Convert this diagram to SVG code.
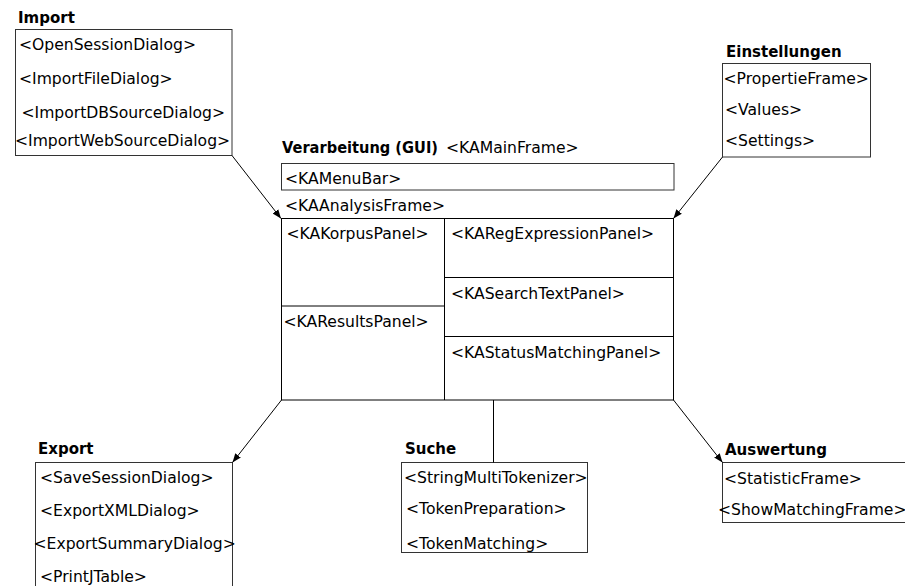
<svg xmlns="http://www.w3.org/2000/svg" width="905" height="586" viewBox="0 0 905 586">
<style>
  text { font-family: "DejaVu Sans", "Liberation Sans", sans-serif; fill: #000; }
  .t { font-size: 15.6px; }
  .h { font-size: 15px; font-weight: bold; }
  .box { fill: #fff; stroke: #333; stroke-width: 1; }
  .frame { fill: none; stroke: #000; stroke-width: 1; }
  .conn line { stroke: #000; stroke-width: 1; }
</style>
<defs>
  <marker id="arr" markerWidth="10" markerHeight="8" refX="9" refY="4" orient="auto" markerUnits="userSpaceOnUse">
    <path d="M0,0.5 L9,4 L0,7.5 z" fill="#000"/>
  </marker>
</defs>
<rect width="905" height="586" fill="#fff"/>

<g id="import">
  <text class="h" x="18" y="22.5">Import</text>
  <rect class="box" x="15.5" y="29.5" width="216.5" height="126"/>
  <text class="t" x="19" y="50">&lt;OpenSessionDialog&gt;</text>
  <text class="t" x="19" y="84">&lt;ImportFileDialog&gt;</text>
  <text class="t" x="21.5" y="117.5">&lt;ImportDBSourceDialog&gt;</text>
  <text class="t" x="15" y="146">&lt;ImportWebSourceDialog&gt;</text>
</g>

<g id="einstellungen">
  <text class="h" x="726" y="57">Einstellungen</text>
  <rect class="box" x="722.5" y="63.5" width="148" height="93.5"/>
  <text class="t" x="723.5" y="83.5">&lt;PropertieFrame&gt;</text>
  <text class="t" x="725" y="115">&lt;Values&gt;</text>
  <text class="t" x="725" y="146">&lt;Settings&gt;</text>
</g>

<g id="verarbeitung">
  <text x="282" y="153"><tspan class="h" textLength="156" lengthAdjust="spacingAndGlyphs">Verarbeitung (GUI)</tspan></text>
  <text class="t" x="446" y="153">&lt;KAMainFrame&gt;</text>
  <rect class="box" x="281.5" y="163.5" width="392.5" height="26.5"/>
  <text class="t" x="285" y="183.5">&lt;KAMenuBar&gt;</text>
  <text class="t" x="285" y="211">&lt;KAAnalysisFrame&gt;</text>
  <rect class="frame" x="281.5" y="218.5" width="392" height="181.5"/>
  <line class="frame" x1="444.5" y1="218.5" x2="444.5" y2="400"/>
  <line class="frame" x1="281.5" y1="306" x2="444.5" y2="306"/>
  <line class="frame" x1="444.5" y1="277.5" x2="673.5" y2="277.5"/>
  <line class="frame" x1="444.5" y1="336.5" x2="673.5" y2="336.5"/>
  <text class="t" x="286.5" y="238.5">&lt;KAKorpusPanel&gt;</text>
  <text class="t" x="451" y="238.5">&lt;KARegExpressionPanel&gt;</text>
  <text class="t" x="451" y="298.5">&lt;KASearchTextPanel&gt;</text>
  <text class="t" x="283.5" y="326.5">&lt;KAResultsPanel&gt;</text>
  <text class="t" x="451" y="357.5">&lt;KAStatusMatchingPanel&gt;</text>
</g>

<g id="export">
  <text class="h" x="38" y="454">Export</text>
  <rect class="box" x="35.5" y="462.5" width="197" height="130"/>
  <text class="t" x="40" y="483">&lt;SaveSessionDialog&gt;</text>
  <text class="t" x="40" y="516">&lt;ExportXMLDialog&gt;</text>
  <text class="t" x="33.5" y="548.5">&lt;ExportSummaryDialog&gt;</text>
  <text class="t" x="40" y="582">&lt;PrintJTable&gt;</text>
</g>

<g id="suche">
  <text class="h" x="405" y="454">Suche</text>
  <rect class="box" x="401.5" y="462.5" width="186" height="90"/>
  <text class="t" x="404" y="483">&lt;StringMultiTokenizer&gt;</text>
  <text class="t" x="406" y="514">&lt;TokenPreparation&gt;</text>
  <text class="t" x="406" y="548.5">&lt;TokenMatching&gt;</text>
</g>

<g id="auswertung">
  <text class="h" x="725" y="455">Auswertung</text>
  <rect class="box" x="722.5" y="462.5" width="200" height="60"/>
  <text class="t" x="724" y="484">&lt;StatisticFrame&gt;</text>
  <text class="t" x="718" y="515">&lt;ShowMatchingFrame&gt;</text>
</g>

<g id="connectors" class="conn">
  <line x1="232" y1="155.5" x2="281" y2="218.5" marker-end="url(#arr)"/>
  <line x1="722.5" y1="157" x2="673.5" y2="218.5" marker-end="url(#arr)"/>
  <line x1="281.5" y1="400" x2="232.5" y2="462.5" marker-end="url(#arr)"/>
  <line x1="673.5" y1="400" x2="722.5" y2="462.5" marker-end="url(#arr)"/>
  <line x1="493.5" y1="400" x2="493.5" y2="462.5"/>
</g>
</svg>
